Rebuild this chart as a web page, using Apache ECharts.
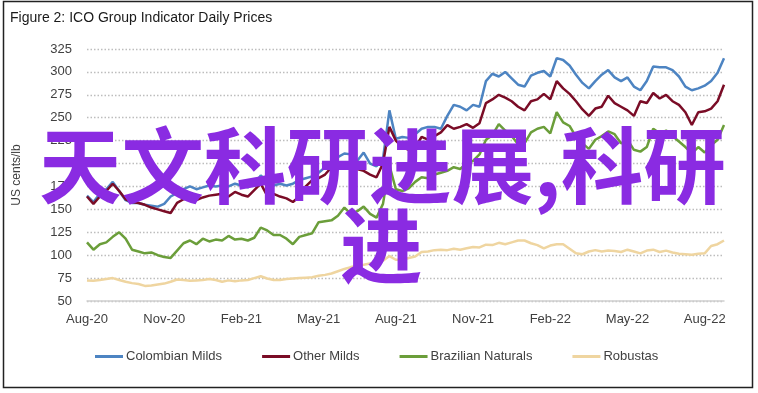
<!DOCTYPE html>
<html>
<head>
<meta charset="utf-8">
<script src="https://cdn.jsdelivr.net/npm/echarts@6/dist/echarts.min.js"></script>
<style>
  html, body { margin: 0; padding: 0; background: #fff; }
  #chart { width: 758px; height: 393px; }
</style>
</head>
<body>
<div id="chart"></div>
<script>
// Tick labels (one per month; 4 samples per month on the category axis)
const monthLabels = ['Aug-20','Sep-20','Oct-20','Nov-20','Dec-20','Jan-21','Feb-21','Mar-21','Apr-21','May-21','Jun-21','Jul-21',
  'Aug-21','Sep-21','Oct-21','Nov-21','Dec-21','Jan-22','Feb-22','Mar-22','Apr-22','May-22','Jun-22','Jul-22','Aug-22'];
const seriesNames = ['Colombian Milds', 'Other Milds', 'Brazilian Naturals', 'Robustas'];

// Values (US cents/lb), ~weekly samples
const colombianMilds = [
  165,158,167,172,180,170,160,157,157,155,
  154,153,156,164,168,172,175,172,174,176,
  175,176,175,178,176,174,178,187,180,176,
  178,176,178,182,184,186,190,196,200,207,
  211,210,203,212,200,197,205,258,227,229,
  228,232,238,240,240,238,252,264,262,258,
  264,262,290,298,295,300,293,286,284,296,
  299,301,295,315,313,307,297,288,282,290,
  297,302,294,290,294,284,280,290,306,305,
  305,302,295,284,280,282,285,290,299,315
];
const otherMilds = [
  164,156,164,170,178,170,161,158,157,155,
  152,150,148,146,157,161,164,160,163,165,
  166,167,164,169,166,164,171,178,165,167,
  164,162,158,164,175,182,184,188,196,194,
  199,196,194,192,188,185,200,240,225,218,
  215,218,229,226,230,234,242,238,240,243,
  239,244,266,270,275,272,268,262,258,268,
  270,276,270,290,282,276,268,259,252,260,
  262,274,266,262,258,252,268,266,277,271,
  275,268,264,256,242,256,257,260,268,286
];
const brazilianNaturals = [
  114,106,112,114,120,125,118,106,104,102,
  103,100,98,97,105,113,116,112,118,115,
  117,116,121,117,118,116,119,130,127,122,
  122,118,112,120,122,124,136,137,138,143,
  152,145,148,153,145,141,156,198,172,170,
  173,180,185,184,188,190,192,196,194,200,
  203,210,226,231,243,236,230,221,222,234,
  238,240,233,256,245,241,229,222,216,226,
  230,235,232,222,226,215,213,218,238,233,
  236,230,224,218,211,218,212,220,226,242
];
const robustas = [
  72.5,72,73,74,75,73,71,69.5,68.5,66.5,
  67,68,69,71,73.5,73,72,72.5,73,74,
  73,71,72.5,71.5,72.5,73,75,77,74.5,73,
  73,74,74.5,75,75.5,76,77.5,78.5,80,82.5,
  85,87,88.5,89.5,91,92,94,99,95,95,
  97,98.5,103.5,104,105.5,106,105.5,107,106,107.5,
  109,108.5,111.5,111,113.5,112,114,116,116,113,
  111,107.5,110.5,112,112,107,102,101,104,105.5,
  104,105,104.5,103.5,106,104,102,105,106,103.5,
  105,103,101.5,101,100.5,101.5,102,110,112,116
];

const categories = [];
monthLabels.forEach(function (m) {
  for (let w = 0; w < 4; w++) categories.push(m + '|' + w);
});

const colors = ['#4d84c2', '#7a0c26', '#6b9e3a', '#efd5a0'];
const FONT = 'Liberation Sans, Arial, sans-serif';

const chart = echarts.init(document.getElementById('chart'), null, { renderer: 'canvas' });

function lineSeries(name, data, color) {
  return {
    name: name, type: 'line', data: data, showSymbol: false, symbol: 'none',
    lineStyle: { color: color, width: 2.5 }, itemStyle: { color: color },
    emphasis: { disabled: true }, animation: false
  };
}

chart.setOption({
  animation: false,
  color: colors,
  title: {
    text: 'Figure 2: ICO Group Indicator Daily Prices',
    left: 5, top: 6,
    textStyle: { fontFamily: FONT, fontSize: 14, fontWeight: 'normal', color: '#1a1a1a' }
  },
  grid: { left: 87, right: 34, top: 49, bottom: 92, containLabel: false },
  legend: {
    data: seriesNames,
    left: 90, top: 345,
    icon: 'rect', itemWidth: 28, itemHeight: 3, itemGap: 40,
    textStyle: { fontFamily: FONT, fontSize: 13, color: '#404040', padding: [0, 0, 0, -2] }
  },
  xAxis: {
    type: 'category', data: categories, boundaryGap: false,
    axisLine: { lineStyle: { color: '#d0d0d0', width: 1.5 } },
    axisTick: { show: false },
    splitLine: { show: false },
    axisLabel: {
      interval: function (idx) { return idx % 12 === 0; },
      formatter: function (v) { return v.split('|')[0]; },
      margin: 12, fontFamily: FONT, fontSize: 13, color: '#404040'
    }
  },
  yAxis: {
    type: 'value', min: 50, max: 325, interval: 25,
    name: 'US cents/lb', nameLocation: 'middle', nameGap: 64, nameRotate: 90,
    nameTextStyle: { fontFamily: FONT, fontSize: 12, color: '#404040' },
    axisLine: { show: false }, axisTick: { show: false },
    axisLabel: { margin: 15, fontFamily: FONT, fontSize: 13, color: '#404040' },
    splitLine: { lineStyle: { color: '#bdbdbd', type: [1.5, 2], width: 1.3 } }
  },
  series: [
    lineSeries(seriesNames[0], colombianMilds, colors[0]),
    lineSeries(seriesNames[1], otherMilds, colors[1]),
    lineSeries(seriesNames[2], brazilianNaturals, colors[2]),
    lineSeries(seriesNames[3], robustas, colors[3])
  ],
  graphic: [
    {
      type: 'rect', z: 0, silent: true,
      shape: { x: 3.5, y: 1.5, width: 749, height: 386 },
      style: { fill: 'none', stroke: '#222', lineWidth: 1.5 }
    },
    {
      type: 'text', z: 100, silent: true, left: 39, top: 124,
      style: {
        text: '天文科研进展,科研', fill: '#8a2be2',
        font: 'bold 82.5px "Noto Sans CJK SC", sans-serif'
      }
    },
    {
      type: 'text', z: 100, silent: true, left: 340, top: 204,
      style: {
        text: '进', fill: '#8a2be2',
        font: 'bold 82.5px "Noto Sans CJK SC", sans-serif'
      }
    }
  ]
});
</script>
</body>
</html>
